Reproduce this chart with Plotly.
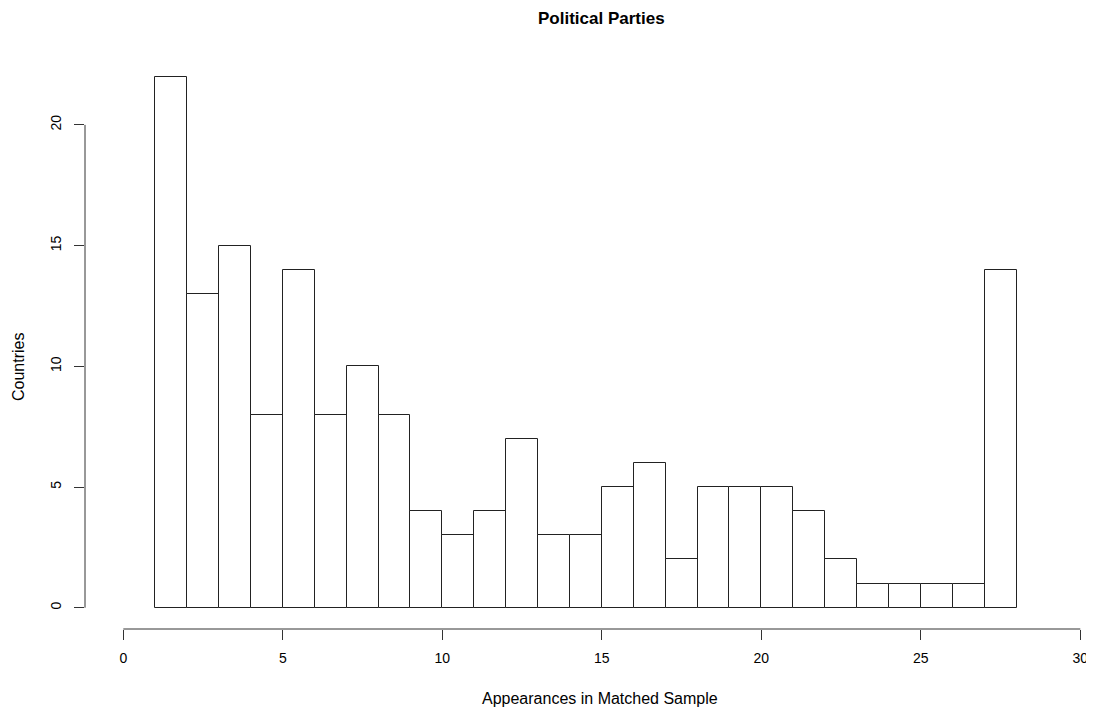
import plotly.graph_objects as go

bin_left = list(range(1, 28))
counts = [22, 13, 15, 8, 14, 8, 10, 8, 4, 3, 4, 7, 3, 3, 5, 6, 2, 5, 5, 5, 4, 2, 1, 1, 1, 1, 14]
x_ticks = [0, 5, 10, 15, 20, 25, 30]
y_ticks = [0, 5, 10, 15, 20]
title = "Political Parties"
x_title = "Appearances in Matched Sample"
y_title = "Countries"

centers = [b + 0.5 for b in bin_left]
font = "Liberation Sans, Arial, sans-serif"

# page has an 8px body margin; work in page coordinates and shift
OFF = 8
W, H = 1094 - OFF, 711 - OFF
PL, PB = 85, 629          # plot-area left / bottom in page px
L = PL - OFF
B = H - (PB - OFF)
PT = OFF                  # plot top in page px (t=0)
pw = W - L
ph = PB - PT

def py(page_y):
    return (PB - page_y) / ph

def px(page_x):
    return (page_x - PL) / pw

fig = go.Figure()
fig.add_trace(go.Bar(
    x=centers, y=counts, width=1,
    marker=dict(color="white", line=dict(color="#222222", width=1)),
    showlegend=False, hoverinfo="x+y",
))

fig.update_layout(
    width=W, height=H,
    margin=dict(l=L, r=0, t=0, b=B, pad=0),
    plot_bgcolor="white", paper_bgcolor="white",
    font=dict(family=font, size=14, color="black"),
    bargap=0,
    xaxis=dict(range=[(PL - 123.3) / 31.9, (1094 - 123.3) / 31.9],
               tickvals=x_ticks, ticktext=[str(v) for v in x_ticks],
               ticks="outside", ticklen=10, tickcolor="#333333", tickwidth=1,
               ticklabelstandoff=6,
               showgrid=False, zeroline=False, showline=False,
               tickfont=dict(size=14, family=font)),
    yaxis=dict(range=[-(PB - 607.7) / 24.14, (607.7 - PT) / 24.14],
               tickvals=y_ticks, ticktext=[str(v) for v in y_ticks],
               ticks="outside", ticklen=10, tickcolor="#333333", tickwidth=1,
               tickangle=-90, ticklabelstandoff=7,
               showgrid=False, zeroline=False, showline=False,
               tickfont=dict(size=14, family=font)),
    shapes=[
        dict(type="line", xref="x", yref="paper", x0=x_ticks[0], x1=x_ticks[-1], y0=0, y1=0,
             line=dict(color="#333333", width=1)),
        dict(type="line", xref="paper", yref="y", x0=0, x1=0, y0=y_ticks[0], y1=y_ticks[-1],
             line=dict(color="#333333", width=1)),
    ],
    annotations=[
        dict(text="<b>" + title + "</b>", xref="paper", yref="paper",
             x=px(601), y=1.0, showarrow=False, borderpad=0,
             font=dict(size=17, family=font), xanchor="center", yanchor="top"),
        dict(text=x_title, xref="paper", yref="paper",
             x=px(600), y=py(698), showarrow=False,
             font=dict(size=16, family=font), xanchor="center", yanchor="middle"),
        dict(text=y_title, xref="paper", yref="paper",
             x=px(18), y=py(367), showarrow=False, textangle=-90,
             font=dict(size=16, family=font), xanchor="center", yanchor="middle"),
    ],
)

fig.write_html("out.html")
